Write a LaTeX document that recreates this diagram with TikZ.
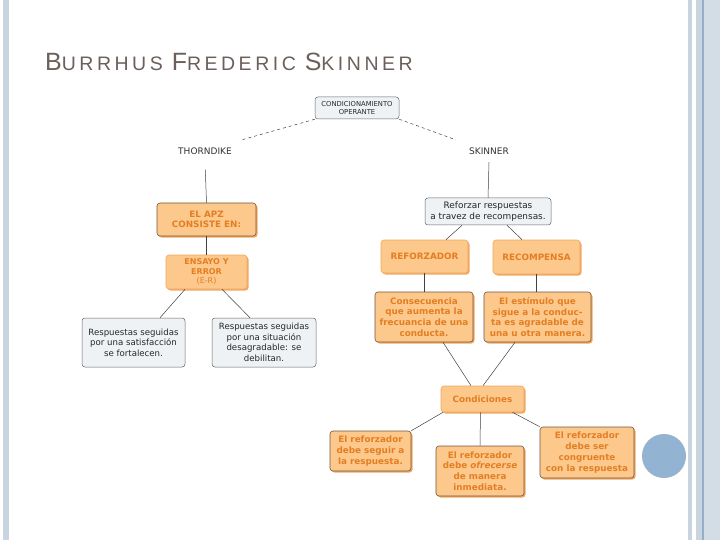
\documentclass[tikz,border=0pt]{standalone}
\usepackage{fontspec}
\setmainfont{DejaVu Sans}
\newfontfamily\titlefont{Liberation Sans}
\usetikzlibrary{shadows}
\definecolor{stripe}{RGB}{200,213,224}
\definecolor{stripedark}{RGB}{150,173,198}
\definecolor{dotblue}{RGB}{147,179,211}
\definecolor{titlegray}{RGB}{107,96,91}
\definecolor{boxorange}{RGB}{252,200,140}
\definecolor{shadeorange}{RGB}{240,168,96}
\definecolor{textorange}{RGB}{228,126,34}
\definecolor{edgebrown}{RGB}{115,85,60}
\definecolor{boxgray}{RGB}{238,242,244}

\begin{document}
\begin{tikzpicture}[x=1pt, y=-1pt,
    orange/.style={rounded corners=3pt, fill=boxorange, draw=edgebrown, line width=0.6pt,
        text=textorange, align=center, inner sep=0.5pt,
        font=\bfseries\fontsize{8.8}{10.8}\selectfont,
        drop shadow={shadow xshift=1.5pt, shadow yshift=-1.5pt, fill=shadeorange, opacity=1}},
    softorange/.style={orange, draw=shadeorange},
    grey/.style={rounded corners=3pt, fill=boxgray, draw=gray!80!black, line width=0.5pt,
        text=black!85, align=center, inner sep=0.5pt,
        font=\fontsize{8.6}{10.5}\selectfont},
    plain/.style={text=black!80, font=\fontsize{9}{10}\selectfont, inner sep=0pt},
    link/.style={draw=black!75, line width=0.5pt}]
    \useasboundingbox (0,0) rectangle (720,540);
    \fill[white] (0,0) rectangle (720,540);
    % slide frame
    \fill[stripe] (3,0) rectangle (9,540);
    \fill[stripe] (688,0) rectangle (692,540);
    \fill[stripe] (696,0) rectangle (702,540);
    \fill[stripedark] (702,0) rectangle (703.5,540);
    \fill[stripe!80] (703.5,0) rectangle (720,540);
    \fill[dotblue] (664,456) circle (22);
    \node[anchor=base west, text=titlegray, inner sep=0pt] (title) at (45,71)
        {\titlefont\addfontfeature{LetterSpace=18}\fontsize{25}{25}\selectfont B\fontsize{19.5}{19.5}\selectfont URRHUS
         \fontsize{25}{25}\selectfont F\fontsize{19.5}{19.5}\selectfont REDERIC
         \fontsize{25}{25}\selectfont S\fontsize{19.5}{19.5}\selectfont KINNER};

    % top of the map
    \node[grey, minimum width=84, minimum height=22, font=\fontsize{6.8}{8.5}\selectfont] (cond) at (357,108)
        {CONDICIONAMIENTO\\OPERANTE};
    \node[plain, minimum width=70, minimum height=21] (thorn) at (205,151) {THORNDIKE};
    \node[plain, minimum width=66, minimum height=22] (skin) at (489,151) {SKINNER};
    \draw[link, dashed] (cond.south west) -- (thorn.north east);
    \draw[link, dashed] (cond.south east) -- (skin.north west);

    % Thorndike branch
    \node[orange, minimum width=99, minimum height=33, font=\bfseries\fontsize{8.8}{9.5}\selectfont] (apz) at (206.5,219.5)
        {EL APZ\\CONSISTE EN:};
    \node[softorange, minimum width=81, minimum height=34, font=\bfseries\fontsize{8}{9.5}\selectfont] (ensayo) at (206.5,272)
        {ENSAYO Y\\ERROR\\{\mdseries(E-R)}};
    \node[grey, minimum width=103, minimum height=49] (satis) at (133.5,342.5)
        {Respuestas seguidas\\por una satisfacción\\se fortalecen.};
    \node[grey, minimum width=104, minimum height=49] (desag) at (264,342.5)
        {Respuestas seguidas\\por una situación\\desagradable: se\\debilitan.};
    \draw[link, shorten <=8pt] (thorn.south) -- (apz.north);
    \draw[link] (apz.south) -- (ensayo.north);
    \draw[link] ([xshift=-21.5pt]ensayo.south) -- ([xshift=26.5pt]satis.north);
    \draw[link] ([xshift=15.5pt]ensayo.south) -- ([xshift=-14pt]desag.north);

    % Skinner branch
    \node[grey, minimum width=126, minimum height=27, font=\fontsize{8.9}{10.5}\selectfont] (refuerzo) at (488,211.5)
        {Reforzar respuestas\\a travez de recompensas.};
    \node[softorange, minimum width=87, minimum height=33] (reforz) at (424.5,256.5) {REFORZADOR};
    \node[softorange, minimum width=87, minimum height=34] (recomp) at (536.5,257) {RECOMPENSA};
    \node[orange, minimum width=98, minimum height=50] (consec) at (424,317)
        {Consecuencia\\que aumenta la\\frecuancia de una\\conducta.};
    \node[orange, minimum width=107, minimum height=50] (estim) at (537.5,317)
        {El estímulo que\\sigue a la conduc-\\ta es agradable de\\una u otra manera.};
    \node[softorange, minimum width=83, minimum height=26] (condic) at (482.5,399) {Condiciones};
    \node[orange, minimum width=81, minimum height=40] (seguir) at (370.5,451)
        {El reforzador\\debe seguir a\\la respuesta.};
    \node[orange, minimum width=88, minimum height=50] (inmed) at (480,471)
        {El reforzador\\debe \emph{ofrecerse}\\de manera\\inmediata.};
    \node[orange, minimum width=94, minimum height=51] (congr) at (587,452.5)
        {El reforzador\\debe ser\\congruente\\con la respuesta};
    \draw[link] (skin.south) -- (refuerzo.north);
    \draw[link] ([xshift=-26pt]refuerzo.south) -- ([xshift=21.5pt]reforz.north);
    \draw[link] ([xshift=19pt]refuerzo.south) -- ([xshift=-14.5pt]recomp.north);
    \draw[link] (reforz.south) -- (consec.north -| reforz.south);
    \draw[link] (recomp.south) -- (estim.north -| recomp.south);
    \draw[link] ([xshift=19pt]consec.south) -- ([xshift=-11.5pt]condic.north);
    \draw[link] ([xshift=-22.5pt]estim.south) -- ([xshift=0.5pt]condic.north);
    \draw[link] ([xshift=-39.5pt]condic.south) -- (seguir.north east);
    \draw[link] ([xshift=-2pt]condic.south) -- (inmed.north);
    \draw[link] ([xshift=30pt]condic.south) -- (congr.north west);
\end{tikzpicture}
\end{document}
